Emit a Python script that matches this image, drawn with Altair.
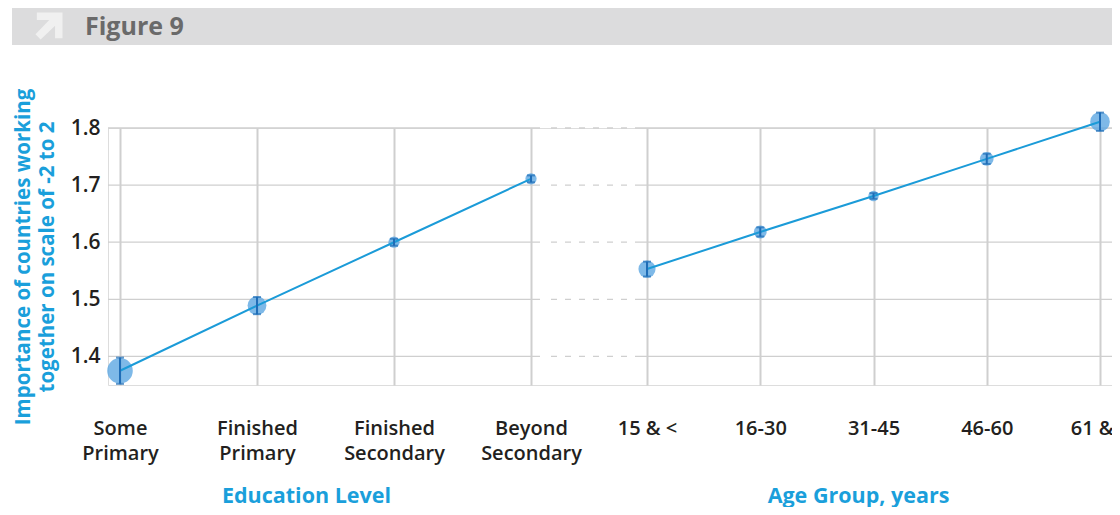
import altair as alt
import pandas as pd

# ---- data ----
edu_levels = ["Some Primary", "Finished Primary", "Finished Secondary", "Beyond Secondary"]
edu_means = [1.375, 1.489, 1.600, 1.711]
edu_ci = [0.023, 0.015, 0.006, 0.006]

age_groups = ["15 & <", "16-30", "31-45", "46-60", "61 & >"]
age_means = [1.553, 1.618, 1.681, 1.746, 1.811]
age_ci = [0.013, 0.008, 0.005, 0.009, 0.016]

y_ticks = [1.4, 1.5, 1.6, 1.7, 1.8]
fig_label = ["Figure 9"]

# ---- styles ----
FONT = "Open Sans"
BLUE = "#1a9fdb"
LINE = "#1b9bd8"
DARK = "#1f6db7"
FILL = "#5ea8e2"
GRID = "#cfcfcf"
TXT = "#231f20"
W, H = 1004, 257


def make_df(cats, means, ci):
    df = pd.DataFrame({"cat": cats, "mean": means, "ci": ci})
    df["lo"] = df["mean"] - df["ci"]
    df["hi"] = df["mean"] + df["ci"]
    d = 7 + 950 * df["ci"]
    df["size"] = 3.14159 * d * d / 4
    return df


edu_df = make_df(edu_levels, edu_means, edu_ci)
age_df = make_df(age_groups, age_means, age_ci)
grid_df = pd.DataFrame({"v": y_ticks})
head_df = pd.DataFrame({"t": fig_label})

yscale = alt.Scale(domain=[1.35, 1.8], nice=False, zero=False)
yaxis = alt.Axis(
    values=y_ticks, format=".1f", grid=False, domain=False, ticks=False,
    labelFontSize=21, labelFont=FONT, labelFontWeight=600, labelColor=TXT,
    labelPadding=8,
    title=["Importance of countries working", "together on scale of -2 to 2"],
    titleFont=FONT, titleFontSize=20.5, titleColor=BLUE, titleFontWeight="bold",
    titlePadding=13, titleLineHeight=24,
)


def x_axis(title, tx, split):
    kw = dict(
        title=title, orient="bottom", domain=False, ticks=False, grid=True,
        gridColor=GRID, gridWidth=2, labelAngle=0, labelFontSize=20,
        labelFont=FONT, labelFontWeight=600, labelColor=TXT, labelPadding=33,
        labelLineHeight=25, labelOverlap=False, titleX=tx, titleY=111,
        titleBaseline="middle", titleAlign="center", titleFont=FONT,
        titleFontSize=21.5, titleColor=BLUE, titleFontWeight="bold",
    )
    if split:
        kw["labelExpr"] = "split(datum.label, ' ')"
    return alt.Axis(**kw)


def group(df, cats, rng, axis):
    xenc = alt.X("cat:N", sort=cats,
                 scale=alt.Scale(type="point", range=rng, padding=0), axis=axis)
    base = alt.Chart(df)
    circ = base.mark_circle(color=FILL, opacity=0.8).encode(
        x=xenc, y=alt.Y("mean:Q", scale=yscale, axis=yaxis),
        size=alt.Size("size:Q", scale=None))
    line = base.mark_line(color=LINE, strokeWidth=2).encode(
        x=xenc, y=alt.Y("mean:Q", scale=yscale, axis=yaxis))
    rule = base.mark_rule(color=DARK, strokeWidth=2).encode(
        x=xenc, y=alt.Y("lo:Q", scale=yscale, axis=yaxis), y2="hi:Q")
    tlo = base.mark_tick(color=DARK, thickness=2, size=8, orient="horizontal").encode(
        x=xenc, y=alt.Y("lo:Q", scale=yscale, axis=yaxis))
    thi = base.mark_tick(color=DARK, thickness=2, size=8, orient="horizontal").encode(
        x=xenc, y=alt.Y("hi:Q", scale=yscale, axis=yaxis))
    return alt.layer(circ, line, rule, tlo, thi)


edu = group(edu_df, edu_levels, [12, 423], x_axis("Education Level", 198, True))
age = group(age_df, age_groups, [539, 992], x_axis("Age Group, years", 750, False))

gbase = alt.Chart(grid_df)
g_left = gbase.mark_rule(color=GRID, strokeWidth=1.3).encode(
    y=alt.Y("v:Q", scale=yscale, axis=yaxis), x=alt.value(0), x2=alt.value(432))
g_mid = gbase.mark_rule(color=GRID, strokeWidth=1.3, strokeDash=[6, 8]).encode(
    y=alt.Y("v:Q", scale=yscale, axis=yaxis), x=alt.value(443), x2=alt.value(529))
g_right = gbase.mark_rule(color=GRID, strokeWidth=1.3).encode(
    y=alt.Y("v:Q", scale=yscale, axis=yaxis), x=alt.value(529), x2=alt.value(W))

hbase = alt.Chart(head_df)
h_rect = hbase.mark_rect(color="#dcdcdd").encode(
    x=alt.value(-96), x2=alt.value(W), y=alt.value(-120), y2=alt.value(-83))
arrow_path = ("M -1 0.62 L 0.02 -0.45 L -0.9 -0.45 L -0.9 -1 L 1 -1 L 1 0.9 "
              "L 0.45 0.9 L 0.45 -0.02 L -0.62 1 Z")
h_arrow = hbase.mark_point(shape=arrow_path, filled=True, color="#f0f0f0",
                           opacity=1, size=729).encode(
    x=alt.value(-59), y=alt.value(-102))
h_text = hbase.mark_text(align="left", baseline="middle", font=FONT,
                         fontSize=25, fontWeight="bold", color="#6a6a6a").encode(
    text="t:N", x=alt.value(-23), y=alt.value(-101))

chart = alt.layer(
    g_left, g_mid, g_right, h_rect, h_arrow, h_text, edu, age
).resolve_scale(x="independent").properties(
    width=W, height=H,
    autosize=alt.AutoSizeParams(type="none"),
    padding={"left": 100, "top": 120, "right": 0, "bottom": 122},
).configure_view(stroke=None).configure(background="white")

chart.save("out.html", embed_options={"renderer": "svg", "actions": False})
